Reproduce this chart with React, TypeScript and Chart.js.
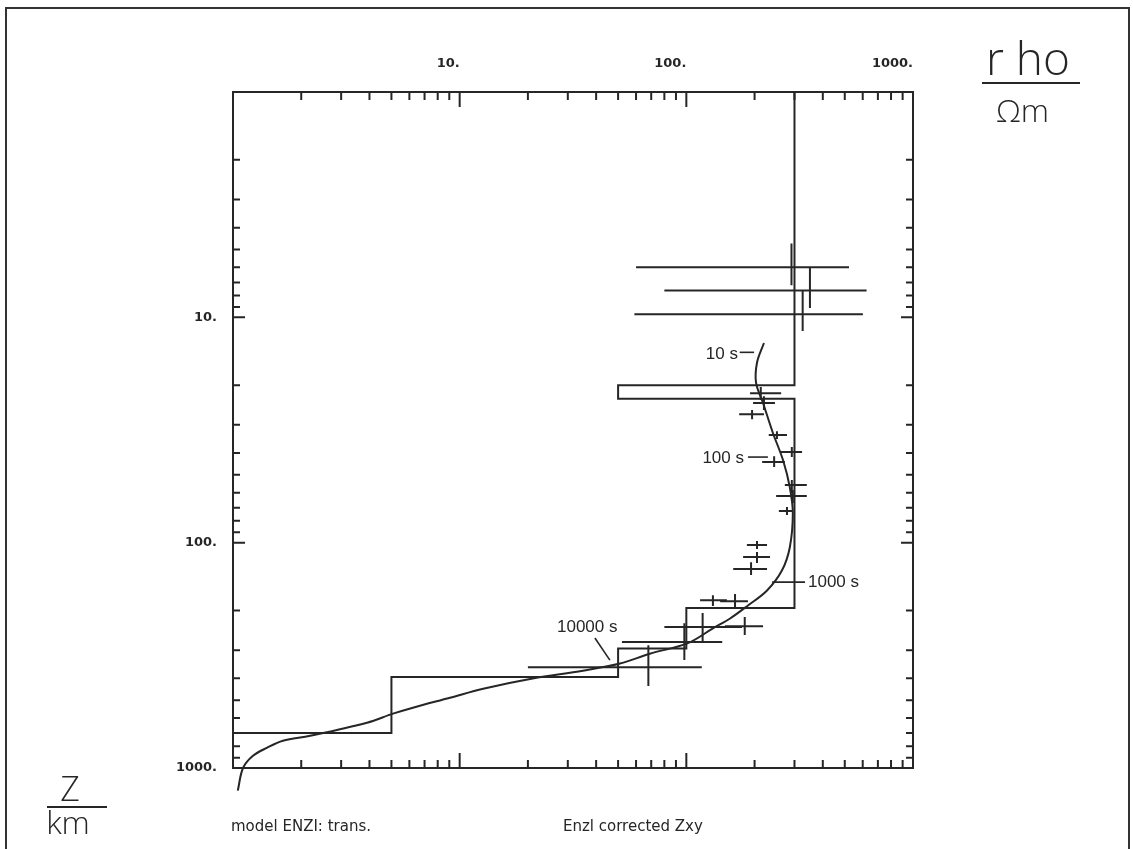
import React, { useEffect, useRef } from 'react';
import { Chart, registerables } from 'chart.js';

Chart.register(...registerables);

const INK = '#262626';

// axis ticks
const decadeValues = [1, 10, 100, 1000];
const rhoTickLabels = ['', '10.', '100.', '1000.'];
const depthTickLabels = ['', '10.', '100.', '1000.'];
const minorSteps = [2, 3, 4, 5, 6, 7, 8, 9];

// layered model (rho in Ohm m, bottom depth in km)
const layerRho = [300, 50, 300, 100, 50, 5, 0.8];
const layerBottom = [20, 23, 195, 295, 395, 700, 1000];

// model response curve (rho*, z*)
const curveRho = [220, 205, 203, 218, 241, 267, 286, 295, 286, 264, 227, 187, 156, 131, 101, 69, 51, 35, 21, 12.7, 9.06, 6.22, 5.08, 3.9, 2.19, 1.66, 1.41, 1.225, 1.107, 1.05];
const curveDepth = [13, 15.9, 19.5, 24, 32.6, 43, 56.7, 74, 105, 133, 163, 190, 217, 240, 280, 311, 344, 370, 401, 445, 488, 540, 574, 630, 720, 757, 814, 883, 1000, 1260];

// observed data with error bars
const obsRho = [291, 351, 326, 213, 220, 195, 251, 292, 244, 292, 295, 278, 205, 205, 193, 131, 164, 118, 181, 98, 68];
const obsDepth = [6.0, 7.6, 9.7, 21.7, 24.0, 26.9, 33.3, 39.6, 43.9, 55.5, 62.1, 72.4, 102.5, 115.8, 131, 180, 182, 237, 235, 276, 357];
const obsRhoLow = [60, 80, 59, 191, 197, 171, 231, 259, 216, 272, 249, 256, 185, 178, 161, 115, 141, 80, 148, 52, 20];
const obsRhoHigh = [522, 624, 601, 262, 246, 220, 278, 324, 272, 340, 340, 295, 227, 234, 227, 151, 187, 176, 218, 144, 117];
const obsDepthLow = [4.7, 6.0, 7.6, 20.4, 22.4, 25.8, 32.0, 37.6, 41.3, 52.7, 58.4, 69.5, 98.4, 110, 122, 171, 169, 205, 214, 228, 285];
const obsDepthHigh = [7.2, 9.1, 11.5, 23.3, 25.8, 28.3, 34.7, 41.7, 46.2, 60.2, 66.7, 75.4, 106.8, 123, 139, 191, 197, 273, 257, 332, 433];

// period labels and their leader lines
const periodLabels = ['10 s', '100 s', '1000 s', '10000 s'];
const leaderRhoStart = [172, 187, 239, 39.5];
const leaderRhoEnd = [199, 229, 334, 46];
const leaderDepthStart = [14.3, 41.7, 149.6, 265];
const leaderDepthEnd = [14.3, 41.7, 149.6, 332];

const tickFont = { family: 'DejaVu Sans', size: 13, weight: 'bold' as const };

const framePlugin = {
  id: 'mtFrame',
  afterDatasetsDraw(chart: any) {
    const { ctx, chartArea: a } = chart;
    const xs = chart.scales.x;
    const ys = chart.scales.y;
    ctx.save();
    ctx.strokeStyle = INK;
    ctx.lineWidth = 2;
    ctx.lineCap = 'butt';
    // error crosses
    for (let i = 0; i < obsRho.length; i++) {
      const px = xs.getPixelForValue(obsRho[i]);
      const py = ys.getPixelForValue(obsDepth[i]);
      ctx.beginPath();
      ctx.moveTo(xs.getPixelForValue(obsRhoLow[i]), py);
      ctx.lineTo(xs.getPixelForValue(obsRhoHigh[i]), py);
      ctx.moveTo(px, ys.getPixelForValue(obsDepthLow[i]));
      ctx.lineTo(px, ys.getPixelForValue(obsDepthHigh[i]));
      ctx.stroke();
    }
    // leader lines
    ctx.lineWidth = 1.6;
    for (let i = 0; i < periodLabels.length; i++) {
      ctx.beginPath();
      ctx.moveTo(xs.getPixelForValue(leaderRhoStart[i]), ys.getPixelForValue(leaderDepthStart[i]));
      ctx.lineTo(xs.getPixelForValue(leaderRhoEnd[i]), ys.getPixelForValue(leaderDepthEnd[i]));
      ctx.stroke();
    }
    // frame
    ctx.lineWidth = 2;
    ctx.strokeRect(a.left, a.top, a.right - a.left, a.bottom - a.top);
    // inward ticks on all four sides
    const vals: { v: number; major: boolean }[] = [];
    decadeValues.forEach((d, di) => {
      if (di > 0 && di < decadeValues.length - 1) vals.push({ v: d, major: true });
      if (di < decadeValues.length - 1) minorSteps.forEach((m) => vals.push({ v: d * m, major: false }));
    });
    ctx.beginPath();
    vals.forEach(({ v, major }) => {
      const len = major ? 15 : 8;
      const px = xs.getPixelForValue(v);
      ctx.moveTo(px, a.top);
      ctx.lineTo(px, a.top + len);
      ctx.moveTo(px, a.bottom);
      ctx.lineTo(px, a.bottom - len);
      const py = ys.getPixelForValue(v);
      ctx.moveTo(a.left, py);
      ctx.lineTo(a.left + (major ? 12 : 7), py);
      ctx.moveTo(a.right, py);
      ctx.lineTo(a.right - (major ? 12 : 7), py);
    });
    ctx.stroke();
    ctx.restore();
  },
};

function T(props: { x: number; base: number; size: number; text: string; family: string; asc: number; weight?: number; align?: 'left' | 'right' | 'center'; w?: number }) {
  const { x, base, size, text, family, asc, weight = 400, align = 'left', w = 0 } = props;
  const style: React.CSSProperties = {
    position: 'absolute',
    top: base - asc * size,
    fontSize: size,
    lineHeight: `${size}px`,
    fontFamily: family,
    fontWeight: weight,
    whiteSpace: 'pre',
    color: INK,
  };
  if (align === 'left') style.left = x;
  else if (align === 'right') style.right = 1133 - x;
  else {
    style.left = x - w / 2;
    style.width = w;
    style.textAlign = 'center';
  }
  return <div style={style}>{text}</div>;
}

export default function App() {
  const ref = useRef<HTMLCanvasElement | null>(null);

  useEffect(() => {
    if (!ref.current) return;
    const modelPoints: { x: number; y: number }[] = [];
    let top = 1;
    layerRho.forEach((r, i) => {
      modelPoints.push({ x: r, y: top });
      modelPoints.push({ x: r, y: layerBottom[i] });
      top = layerBottom[i];
    });
    const curvePoints = curveRho.map((r, i) => ({ x: r, y: curveDepth[i] }));

    const chart = new Chart(ref.current, {
      type: 'scatter',
      data: {
        datasets: [
          {
            label: 'model',
            data: modelPoints,
            showLine: true,
            borderColor: INK,
            borderWidth: 2,
            pointRadius: 0,
            tension: 0,
            clip: 0,
          } as any,
          {
            label: 'response',
            data: curvePoints,
            showLine: true,
            borderColor: INK,
            borderWidth: 2,
            pointRadius: 0,
            tension: 0.35,
            clip: false,
          } as any,
        ],
      },
      options: {
        animation: false,
        responsive: false,
        devicePixelRatio: 1,
        events: [],
        layout: { padding: { left: 0, top: 0, right: 220, bottom: 81 } },
        plugins: { legend: { display: false }, tooltip: { enabled: false } },
        scales: {
          x: {
            type: 'logarithmic',
            position: 'top',
            min: 1,
            max: 1000,
            grid: { display: false, drawTicks: false },
            border: { display: false },
            afterBuildTicks: (s: any) => {
              s.ticks = decadeValues.map((v) => ({ value: v }));
            },
            afterFit: (s: any) => {
              s.height = 92;
            },
            ticks: {
              align: 'end',
              padding: 21,
              autoSkip: false,
              maxRotation: 0,
              minRotation: 0,
              color: INK,
              font: tickFont,
              callback: (_v: any, i: number) => rhoTickLabels[i],
            },
          } as any,
          y: {
            type: 'logarithmic',
            position: 'left',
            reverse: true,
            min: 1,
            max: 1000,
            grid: { display: false, drawTicks: false },
            border: { display: false },
            afterBuildTicks: (s: any) => {
              s.ticks = decadeValues.map((v) => ({ value: v }));
            },
            afterFit: (s: any) => {
              s.width = 233;
            },
            ticks: {
              padding: 16,
              autoSkip: false,
              color: INK,
              font: tickFont,
              callback: (_v: any, i: number) => depthTickLabels[i],
            },
          } as any,
        },
      },
      plugins: [framePlugin],
    });
    return () => chart.destroy();
  }, []);

  const OS = '"Open Sans", "DejaVu Sans", sans-serif';
  const LS = '"Liberation Sans", Arial, sans-serif';
  const DS = '"DejaVu Sans", sans-serif';

  return (
    <div style={{ position: 'fixed', left: 0, top: 0, width: 1133, height: 849, overflow: 'hidden', background: '#fff' }}>
      <canvas ref={ref} width={1133} height={849} style={{ position: 'absolute', left: 0, top: 0, width: 1133, height: 849 }} />
      <div style={{ position: 'absolute', left: 5, top: 7, width: 1125, height: 900, border: '2px solid #333', boxSizing: 'border-box' }} />

      {/* axis titles */}
      <T x={986} base={75} size={46} text="r ho" family={OS} asc={0.888} weight={300} />
      <div style={{ position: 'absolute', left: 982, top: 82, width: 98, height: 2, background: INK }} />
      <T x={996} base={122} size={32} text="Ωm" family={OS} asc={0.888} weight={300} />

      <T x={70} base={801} size={34} text="Z" family={OS} asc={0.888} weight={300} align="center" w={80} />
      <div style={{ position: 'absolute', left: 47, top: 806, width: 60, height: 2, background: INK }} />
      <T x={68} base={834} size={32} text="km" family={OS} asc={0.888} weight={300} align="center" w={80} />

      {/* period labels */}
      <T x={738} base={359.5} size={17} text={periodLabels[0]} family={LS} asc={0.8465} align="right" />
      <T x={744} base={463} size={17} text={periodLabels[1]} family={LS} asc={0.8465} align="right" />
      <T x={808} base={587} size={17} text={periodLabels[2]} family={LS} asc={0.8465} />
      <T x={557} base={632} size={17} text={periodLabels[3]} family={LS} asc={0.8465} />

      {/* captions */}
      <T x={231} base={832} size={15} text="model ENZI: trans." family={DS} asc={0.846} />
      <T x={563} base={832} size={15} text="Enzl corrected Zxy" family={DS} asc={0.846} />
    </div>
  );
}
